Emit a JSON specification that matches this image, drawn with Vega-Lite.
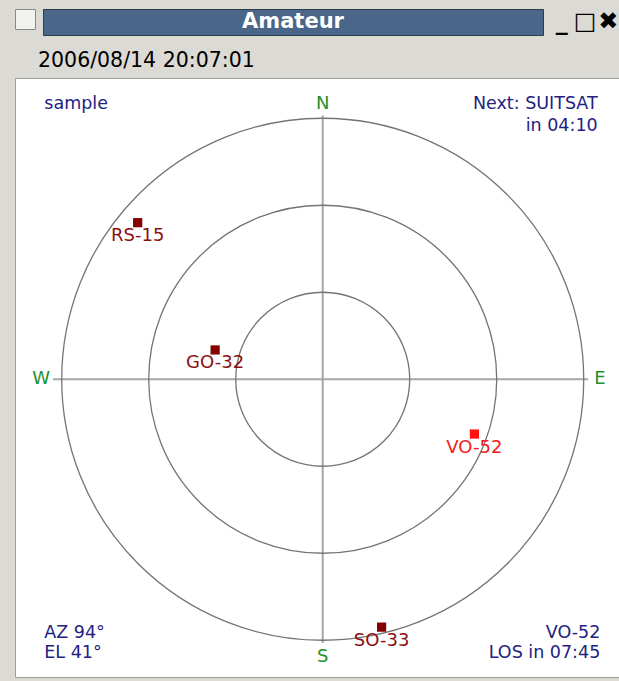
{
  "$schema": "https://vega.github.io/schema/vega-lite/v6.json",
  "background": "#dcdad5",
  "padding": {"left": 14, "top": 8, "right": 0, "bottom": 4},
  "spacing": 14,
  "config": {"view": {"stroke": null}, "font": "DejaVu Sans", "text": {"font": "DejaVu Sans"}},
  "datasets": {
    "rings": [{"r": 30, "x": 0, "y": 0}, {"r": 60, "x": 0, "y": 0}, {"r": 90, "x": 0, "y": 0}],
    "axes": [{"x": -93, "x2": 91.5, "y": 0, "y2": 0}, {"x": 0, "x2": 0, "y": -91, "y2": 91}],
    "compass": [
      {"label": "N", "x": 0, "y": 95.1},
      {"label": "S", "x": 0, "y": -95.8},
      {"label": "W", "x": -97.1, "y": 0},
      {"label": "E", "x": 95.6, "y": 0}
    ],
    "sats": [
      {"name": "RS-15", "x": -63.8, "y": 54.0, "selected": "no"},
      {"name": "GO-32", "x": -37.1, "y": 10.1, "selected": "no"},
      {"name": "VO-52", "x": 52.3, "y": -18.9, "selected": "yes"},
      {"name": "SO-33", "x": 20.3, "y": -85.5, "selected": "no"}
    ],
    "corner": [
      {"text": "sample", "x": -96.0, "y": 94.9, "side": "left"},
      {"text": "Next:  SUITSAT", "x": 94.8, "y": 95.0, "side": "right"},
      {"text": "in 04:10", "x": 94.8, "y": 87.4, "side": "right"},
      {"text": "AZ 94°", "x": -96.0, "y": -87.5, "side": "left"},
      {"text": "EL 41°", "x": -96.0, "y": -94.5, "side": "left"},
      {"text": "VO-52", "x": 95.7, "y": -87.5, "side": "right"},
      {"text": "LOS in 07:45", "x": 95.7, "y": -94.5, "side": "right"}
    ]
  },
  "vconcat": [
    {
      "spacing": 6,
      "hconcat": [
        {
          "width": 20, "height": 20,
          "view": {"fill": "#f2f2f0", "stroke": "#8a8a88"},
          "data": {"values": [{"t": ""}]},
          "mark": {"type": "text"},
          "encoding": {"text": {"field": "t"}}
        },
        {
          "width": 500, "height": 26,
          "view": {"fill": "#4a678a", "stroke": "#2c3d52"},
          "data": {"values": [{"t": "Amateur"}]},
          "mark": {"type": "text", "color": "white", "fontSize": 21, "fontWeight": "bold", "baseline": "middle", "align": "center"},
          "encoding": {"text": {"field": "t"}}
        },
        {
          "width": 70, "height": 26,
          "data": {"values": [{"g": "_"}, {"g": "□"}, {"g": "✖"}]},
          "mark": {"type": "text", "color": "black", "fontSize": 24, "fontWeight": "bold", "baseline": "middle"},
          "encoding": {
            "x": {"field": "g", "type": "nominal", "sort": null, "scale": {"type": "point", "padding": 0.5}, "axis": null},
            "text": {"field": "g"}
          }
        }
      ]
    },
    {
      "width": 605,
      "height": 599,
      "view": {"fill": "white", "stroke": "#a09e98"},
      "title": {"text": "2006/08/14 20:07:01", "anchor": "start", "fontSize": 20.5, "fontWeight": "normal", "color": "black", "font": "DejaVu Sans", "baseline": "bottom", "offset": -13, "dx": 23},
      "layer": [
        {
          "data": {"name": "axes"},
          "mark": {"type": "rule", "color": "#a6a6a6", "strokeWidth": 2},
          "encoding": {
            "x": {"field": "x", "type": "quantitative", "scale": {"domain": [-106.1, 102.5], "nice": false, "zero": false}, "axis": null},
            "x2": {"field": "x2"},
            "y": {"field": "y", "type": "quantitative", "scale": {"domain": [-102.7, 103.9], "nice": false, "zero": false}, "axis": null},
            "y2": {"field": "y2"}
          }
        },
        {
          "data": {"name": "rings"},
          "mark": {"type": "point", "shape": "circle", "filled": false, "stroke": "#747474", "strokeWidth": 1.3, "opacity": 1},
          "encoding": {
            "x": {"field": "x", "type": "quantitative"},
            "y": {"field": "y", "type": "quantitative"},
            "size": {"field": "r", "type": "quantitative", "scale": {"type": "pow", "exponent": 2, "domain": [0, 90], "range": [0, 272484]}, "legend": null}
          }
        },
        {
          "data": {"name": "compass"},
          "mark": {"type": "text", "fontSize": 18, "color": "#23902c", "align": "center", "baseline": "middle"},
          "encoding": {
            "x": {"field": "x", "type": "quantitative"},
            "y": {"field": "y", "type": "quantitative"},
            "text": {"field": "label"}
          }
        },
        {
          "data": {"name": "sats"},
          "mark": {"type": "point", "shape": "square", "filled": true, "size": 85, "opacity": 1},
          "encoding": {
            "x": {"field": "x", "type": "quantitative"},
            "y": {"field": "y", "type": "quantitative"},
            "color": {"field": "selected", "type": "nominal", "scale": {"domain": ["no", "yes"], "range": ["#850000", "#ff1010"]}, "legend": null}
          }
        },
        {
          "data": {"name": "sats"},
          "mark": {"type": "text", "fontSize": 18, "align": "center", "baseline": "middle", "dy": 13.5},
          "encoding": {
            "x": {"field": "x", "type": "quantitative"},
            "y": {"field": "y", "type": "quantitative"},
            "text": {"field": "name"},
            "color": {"field": "selected", "type": "nominal", "scale": {"domain": ["no", "yes"], "range": ["#8b1010", "#f02020"]}, "legend": null}
          }
        },
        {
          "data": {"name": "corner"},
          "transform": [{"filter": "datum.side == 'left'"}],
          "mark": {"type": "text", "fontSize": 17.5, "align": "left", "baseline": "middle", "color": "#23237f"},
          "encoding": {
            "x": {"field": "x", "type": "quantitative"},
            "y": {"field": "y", "type": "quantitative"},
            "text": {"field": "text"}
          }
        },
        {
          "data": {"name": "corner"},
          "transform": [{"filter": "datum.side == 'right'"}],
          "mark": {"type": "text", "fontSize": 17.5, "align": "right", "baseline": "middle", "color": "#23237f"},
          "encoding": {
            "x": {"field": "x", "type": "quantitative"},
            "y": {"field": "y", "type": "quantitative"},
            "text": {"field": "text"}
          }
        }
      ],
      "resolve": {"scale": {"color": "independent"}}
    }
  ]
}
